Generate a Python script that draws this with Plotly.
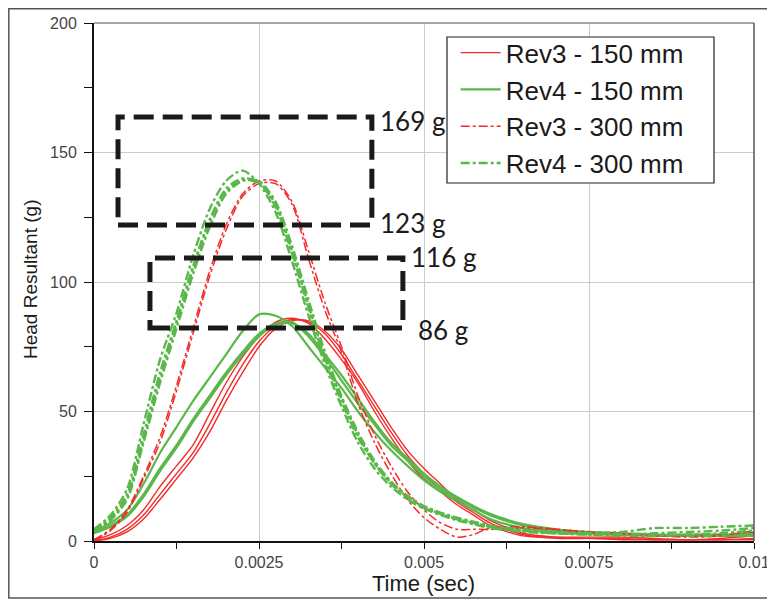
import plotly.graph_objects as go

# ---------------- data ----------------
TIME = [0, 0.00025, 0.0005, 0.00075, 0.001, 0.00125, 0.0015, 0.00175, 0.002, 0.00225,
        0.0025, 0.00275, 0.003, 0.00325, 0.0035, 0.00375, 0.004, 0.00425, 0.0045, 0.00475,
        0.005, 0.00525, 0.0055, 0.00575, 0.006, 0.0065, 0.007, 0.0075, 0.008, 0.0085,
        0.009, 0.0095, 0.01]

REV3_150 = [
    [0.5, 2.5, 6, 12, 21, 29, 37, 49, 61, 71, 79, 84.5, 86, 84, 78, 70, 61, 50, 40, 31, 24, 19, 14, 10, 6, 2, 1.5, 1.5, 1.5, 1, 0.5, 1, 2],
    [0, 1.5, 4.5, 10, 18, 26, 34, 45, 57, 68, 77, 83, 85.5, 84.5, 80, 72, 62, 52, 42, 33, 26, 20, 15, 11, 7, 2.5, 1, 1, 1, 0.5, 0.5, 0.5, 1],
    [0, 1, 3.5, 8.5, 16, 24, 32, 42, 54, 65, 75, 82, 85, 85, 81, 74, 64, 54, 44, 35, 28, 22, 16, 12, 8, 3, 1.5, 1, 0.5, 0.5, 0.5, 0.5, 0.5],
]
REV4_150 = [
    [4, 7, 12, 22, 34, 44, 54, 63, 72, 81, 87.5, 87, 83, 75, 67, 59, 50, 42, 35, 29, 23.5, 19, 15.5, 12, 8.5, 5, 3.5, 3, 2.5, 2, 2, 2, 2.5],
    [3.5, 6, 10, 18, 28, 37, 47, 56, 65, 73, 80, 84, 84.5, 79, 71, 62, 53, 45, 37, 31, 25, 20, 16.5, 13, 10, 6, 4, 3, 2.5, 2, 2, 2, 2],
    [3, 5.5, 9.5, 17, 27, 36, 46, 55, 64, 72, 79, 83.5, 84, 80, 72, 64, 55, 46, 38, 32, 26, 21, 17, 13.5, 10.5, 6.5, 4.5, 3.5, 3, 2.5, 2.5, 2.5, 3],
]
REV3_300 = [
    [0, 4, 11, 24, 38, 58, 80, 102, 120, 133, 138, 138, 130, 109, 89, 73, 53, 38, 26, 16, 9, 4.5, 1.5, 2.5, 5, 5.5, 4.5, 3, 2.5, 2, 1.5, 2, 4],
    [0.5, 4.5, 12, 25, 40, 60, 82, 104, 122, 134, 139, 139, 131, 112, 92, 75, 56, 41, 29, 19, 12, 7, 4.5, 4.5, 4.5, 5, 4.5, 3.5, 3, 2, 2, 2.5, 3.5],
]
REV4_300 = [
    [4.5, 10, 20, 45, 70, 88, 110, 128, 139, 143, 138, 127, 108, 87, 68, 52, 38, 28, 21, 16, 12.5, 10, 8, 6.5, 5, 3.5, 3, 3, 3.5, 5, 5, 5.5, 6],
    [4, 9, 18, 41, 65, 85, 106, 124, 136, 140, 138.5, 129, 111, 90, 70, 54, 40, 30, 22, 17, 13, 10.5, 8.5, 7, 5.5, 4, 3, 2.5, 2, 2, 2.5, 3, 4],
    [3.5, 8, 16, 38, 61, 82, 103, 121, 134, 139, 139, 131, 114, 93, 73, 56, 42, 31, 23, 17.5, 13.5, 11, 9, 7.5, 6, 4.5, 3.5, 3, 2.5, 2.5, 2, 2, 2.5],
    [4, 8.5, 17, 39, 63, 84, 105, 123, 135, 139.5, 138, 130, 112, 91, 71, 55, 41, 30, 22.5, 17, 13, 10.5, 8.5, 7, 5.5, 4, 3, 2.5, 2.5, 3, 3.5, 4, 5],
]

SERIES_NAMES = ["Rev3 - 150 mm", "Rev4 - 150 mm", "Rev3 - 300 mm", "Rev4 - 300 mm"]

X_TICKS = [0, 0.0025, 0.005, 0.0075, 0.01]
X_TICK_LABELS = ["0", "0.0025", "0.005", "0.0075", "0.01"]
Y_TICKS = [0, 50, 100, 150, 200]
Y_TICK_LABELS = ["0", "50", "100", "150", "200"]

# target boxes: (t_start, t_end, g_low, g_high) and labels
BOX_UPPER = [0.000364, 0.00421, 122.0, 163.7]
BOX_LOWER = [0.000848, 0.00468, 82.2, 109.3]
BOX_LABELS = ["169 g", "123 g", "116 g", "86 g"]
BOX_LABEL_POS = [(0.00430, 162.2), (0.00430, 122.8), (0.00477, 109.7), (0.00488, 81.5)]

RED = "#f42a2a"
GREEN = "#5ab84a"

# ---------------- figure ----------------
fig = go.Figure()

families = [
    (REV3_150, SERIES_NAMES[0], RED, "solid", 1.4),
    (REV4_150, SERIES_NAMES[1], GREEN, "solid", 2.2),
    (REV3_300, SERIES_NAMES[2], RED, "dashdot", 1.5),
    (REV4_300, SERIES_NAMES[3], GREEN, "dashdot", 2.4),
]
for curves, name, color, dash, width in families:
    for i, ys in enumerate(curves):
        fig.add_trace(go.Scatter(
            x=TIME, y=ys, mode="lines", name=name, legendgroup=name,
            showlegend=(i == 0),
            line=dict(color=color, dash=dash, width=width, shape="spline", smoothing=0.8),
        ))

FONT = "Liberation Sans, Arial, sans-serif"

# The page body has an 8px margin; plot area on screen: x 94..754, y 23..541
fig.update_layout(
    width=767, height=595,
    margin=dict(l=86, r=21, t=15, b=62, autoexpand=False),
    paper_bgcolor="white", plot_bgcolor="white",
    font=dict(family=FONT, color="#333333"),
    showlegend=True,
    legend=dict(
        x=0.548, y=0.988, xanchor="left", yanchor="top",
        bgcolor="rgba(255,255,255,0)", borderwidth=0,
        font=dict(family=FONT, size=26, color="#1a1a1a"),
        tracegroupgap=0, itemwidth=40,
    ),
    xaxis=dict(
        range=[0, 0.01], tickvals=X_TICKS, ticktext=X_TICK_LABELS,
        showgrid=True, gridcolor="#cccccc", gridwidth=1,
        showline=True, linecolor="#111111", linewidth=2,
        ticks="outside", ticklen=6, tickcolor="#111111", tickwidth=1,
        minor=dict(dtick=0.00125, tick0=0, ticks="outside", ticklen=6, tickcolor="#111111", showgrid=False),
        tickfont=dict(family=FONT, size=16, color="#444444"),
        zeroline=False, fixedrange=True, automargin=False,
    ),
    yaxis=dict(
        range=[0, 200], tickvals=Y_TICKS, ticktext=Y_TICK_LABELS,
        showgrid=True, gridcolor="#cccccc", gridwidth=1,
        showline=True, linecolor="#111111", linewidth=2,
        ticks="outside", ticklen=8, tickcolor="#111111", tickwidth=1,
        minor=dict(dtick=25, tick0=0, ticks="outside", ticklen=8, tickcolor="#111111", showgrid=False),
        tickfont=dict(family=FONT, size=16, color="#444444"),
        ticklabelstandoff=4,
        zeroline=False, fixedrange=True, automargin=False,
    ),
    xaxis2=dict(
        overlaying="x", anchor="y", range=[0, 0.01], tickvals=X_TICKS,
        showticklabels=False, showgrid=False, showline=False, zeroline=False,
        ticks="inside", ticklen=5, tickcolor="#111111",
        minor=dict(dtick=0.00125, tick0=0, ticks="inside", ticklen=5, tickcolor="#111111", showgrid=False),
        side="bottom", automargin=False, fixedrange=True,
    ),
    yaxis2=dict(
        overlaying="y", anchor="x", range=[0, 200], tickvals=Y_TICKS,
        showticklabels=False, showgrid=False, showline=False, zeroline=False,
        ticks="inside", ticklen=6, tickcolor="#111111",
        minor=dict(dtick=25, tick0=0, ticks="inside", ticklen=6, tickcolor="#111111", showgrid=False),
        side="left", automargin=False, fixedrange=True,
    ),
)

def px_x(p):
    return (p - 94) / 660

def px_y(p):
    return (541 - p) / 518

shapes = []
for bx in (BOX_UPPER, BOX_LOWER):
    shapes.append(dict(type="rect", xref="x", yref="y", x0=bx[0], x1=bx[1], y0=bx[2], y1=bx[3],
                       line=dict(color="#1a1a1a", width=5, dash="20px,9px")))
# plot-area top and right borders
shapes.append(dict(type="line", xref="paper", yref="paper", x0=0, x1=1, y0=1, y1=1,
                   line=dict(color="#888888", width=1.5)))
shapes.append(dict(type="line", xref="paper", yref="paper", x0=1, x1=1, y0=0, y1=1,
                   line=dict(color="#555555", width=1.5)))
# legend frame (screen pixels 447..714 x 37..183)
shapes.append(dict(type="rect", xref="paper", yref="paper", layer="above",
                   x0=px_x(447), x1=px_x(714), y0=px_y(183), y1=px_y(37),
                   fillcolor="white", line=dict(color="#222222", width=1.2)))
# outer frame
shapes.append(dict(type="rect", xref="paper", yref="paper",
                   x0=px_x(8.8), x1=px_x(790), y0=px_y(598), y1=px_y(8.8),
                   line=dict(color="#555555", width=1.5)))
fig.update_layout(shapes=shapes)

annotations = []
for txt, (ax, ay) in zip(BOX_LABELS, BOX_LABEL_POS):
    annotations.append(dict(x=ax, y=ay, xref="x", yref="y", text=txt, showarrow=False,
                            xanchor="left", yanchor="middle",
                            font=dict(family="Lato, Carlito, sans-serif", size=26, color="#1a1a1a")))
annotations.append(dict(x=px_x(30), y=px_y(280), xref="paper", yref="paper",
                        text="Head Resultant (g)",
                        showarrow=False, textangle=-90, xanchor="center", yanchor="middle",
                        font=dict(family=FONT, size=19, color="#1a1a1a")))
annotations.append(dict(x=px_x(423), y=px_y(583), xref="paper", yref="paper",
                        text="Time (sec)",
                        showarrow=False, xanchor="center", yanchor="middle",
                        font=dict(family=FONT, size=22, color="#1a1a1a")))
fig.update_layout(annotations=annotations)

fig.write_html("out.html")
